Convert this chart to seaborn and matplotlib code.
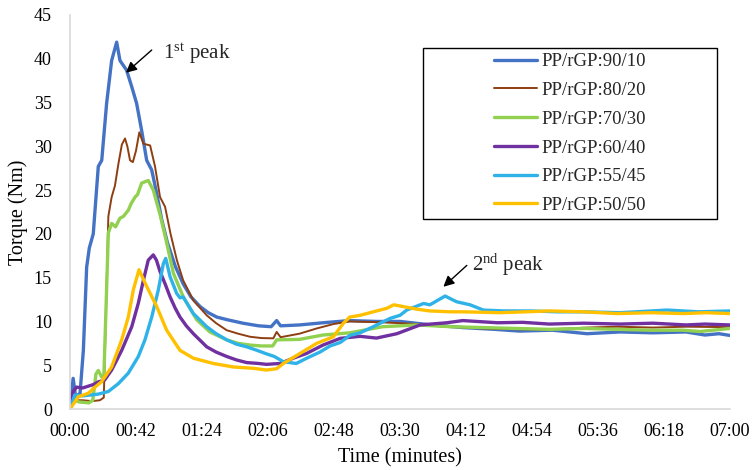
import matplotlib
matplotlib.use("Agg")
import matplotlib.pyplot as plt
from matplotlib.patches import Rectangle
import numpy as np
import pandas as pd
import seaborn as sns

# Torque curves, time in seconds
t_90_10 = [0, 2, 3.6, 6.4, 8.5, 10.6, 12.3, 14.8, 18, 20.2, 23.3, 26.5, 29.7, 31.8, 36, 39.3, 42.4, 45.6,
           48.8, 52, 55.2, 58.4, 62, 67, 72, 77, 82.8, 88, 93.4, 100, 110, 120, 128, 131.5, 134, 146, 161,
           178, 195, 210, 230, 250, 270, 286, 307, 329, 350, 371, 392, 404, 413, 420]
v_90_10 = [0, 3.5, 1.4, 1.8, 6.7, 16.2, 18.4, 20, 27.7, 28.4, 34.9, 39.8, 41.9, 39.8, 38.7, 36.8, 34.9, 31.8,
           28.4, 27.3, 24.6, 21.6, 19.0, 16.3, 14.3, 12.8, 11.7, 11.0, 10.5, 10.2, 9.8, 9.5, 9.4, 10.1, 9.5, 9.6, 9.85,
           10.1, 10.0, 10.0, 9.6, 9.3, 9.1, 8.9, 9.0, 8.6, 8.8, 8.7, 8.8, 8.45, 8.6, 8.4]

t_80_20 = [0, 2.5, 8, 14, 19, 21.5, 23, 24.4, 26.5, 28.6, 30.8, 33, 35, 36.5, 38.2, 40, 42, 44.1, 46.7, 51,
           54.1, 57.3, 60.5, 64, 68, 72, 78.5, 87, 93, 99.7, 107, 114.6, 122, 129.4, 131.5, 134, 146, 157,
           167.6, 178, 199, 220.7, 242, 263, 286, 305.5, 329, 348, 371, 392, 420]
v_80_20 = [0, 1.0, 1.0, 0.9, 1.0, 1.3, 12, 22, 24.2, 25.5, 28, 30.2, 30.9, 30.0, 28.4, 28.2, 29.5, 31.6, 30.3, 30.1,
           27.7, 24.2, 23.1, 20, 17, 14.7, 12.4, 10.7, 9.8, 9.0, 8.6, 8.25, 8.1, 8.07, 8.8, 8.2, 8.6, 9.2,
           9.7, 10.0, 9.9, 9.7, 9.4, 9.2, 9.1, 9.1, 9.3, 9.4, 9.3, 9.4, 9.35]

t_70_30 = [0, 2, 6, 12, 14.5, 16.5, 18, 20, 21.5, 23, 24.4, 26.5, 29, 31.8, 34, 37.1, 39, 41.4, 43, 45.6, 49.8,
           53, 57.3, 60.5, 65.8, 72.1, 80.6, 89, 99.7, 107, 114.6, 122, 129, 131.5, 146, 161, 178, 199, 220.7,
           242, 263, 284, 305, 327, 348, 369, 390, 401, 420]
v_70_30 = [0, 1.0, 0.8, 0.7, 1.0, 4.0, 4.4, 3.7, 3.5, 12, 20.1, 21.2, 20.8, 21.8, 22.0, 22.7, 23.5, 24.2, 24.5, 25.8, 26.1,
           25.0, 22.2, 19.8, 15.5, 12.8, 10.2, 8.8, 7.9, 7.5, 7.3, 7.2, 7.2, 7.9, 7.95, 8.45, 8.7, 9.4, 9.6,
           9.4, 9.3, 9.2, 9.1, 9.2, 9.1, 9.0, 9.0, 8.85, 9.2]

t_60_40 = [0, 2, 4.2, 8, 11.5, 15, 18, 22, 26.5, 29.5, 32.9, 36, 39.3, 43.5, 46.7, 49.8, 53, 55, 57.3, 60.5,
           63.7, 67, 70, 74, 78.5, 87, 93, 99.7, 106, 112.5, 120, 125, 133.7, 142, 150.6, 161, 172, 184.6, 195,
           208, 222.8, 239.8, 250, 272, 288, 305, 327, 350, 371, 392, 404, 420]
v_60_40 = [0, 2.0, 2.5, 2.4, 2.6, 2.8, 3.1, 3.3, 4.45, 5.5, 6.7, 8.0, 9.4, 12.1, 14.7, 17.0, 17.6, 17.0, 15.7, 14.3,
           12.8, 11.5, 10.5, 9.5, 8.6, 7.1, 6.5, 6.0, 5.6, 5.3, 5.2, 5.1, 5.2, 5.8, 6.35, 7.3, 8.07, 8.3, 8.1,
           8.6, 9.6, 9.85, 10.1, 9.85, 9.9, 9.7, 9.8, 9.7, 9.8, 9.6, 9.7, 9.6]

t_55_45 = [0, 3, 8, 13, 18, 24.4, 30.8, 37.1, 43.5, 47.7, 52, 56.2, 59.4, 60.9, 63.7, 67.9, 70, 72, 78.5, 87,
           93, 99.7, 106, 112.5, 119, 125, 130, 135.8, 144, 150.6, 159, 165.5, 172, 178, 184.6, 193, 203.7, 210,
           214.3, 225, 229, 238.7, 246, 254.6, 263, 276, 293, 310, 327, 350, 380, 400, 420]
v_55_45 = [0, 1.6, 1.5, 1.6, 1.7, 2.0, 2.9, 4.1, 6.0, 7.9, 10.5, 13.6, 16.6, 17.2, 15.1, 13.2, 12.7, 12.8, 10.9, 9.4,
           8.6, 7.9, 7.4, 7.1, 6.7, 6.3, 6.0, 5.4, 5.2, 5.8, 6.5, 7.2, 7.6, 8.4, 8.7, 9.4, 10.35, 10.7,
           11.3, 12.05, 11.9, 12.9, 12.25, 11.9, 11.3, 11.2, 11.2, 11.1, 11.1, 11.0, 11.3, 11.1, 11.2]

t_50_50 = [0, 5.3, 11.7, 15.9, 20, 26.5, 32.9, 37.1, 40.3, 43.9, 48.8, 55.2, 61.5, 70, 78.5, 91.2, 104, 116.7,
           125, 131.5, 135.8, 146.4, 157, 167.6, 174, 178, 184.6, 193, 201.6, 206, 212, 220.7, 229, 242, 250,
           273.6, 290, 305, 327, 348, 370, 390, 405, 420]
v_50_50 = [0, 1.4, 1.8, 2.5, 3.1, 4.8, 7.9, 10.5, 13.6, 15.9, 14.0, 11.7, 9.0, 6.7, 5.8, 5.2, 4.8, 4.65,
           4.45, 4.6, 5.2, 6.35, 7.5, 8.25, 9.8, 10.5, 10.7, 11.1, 11.5, 11.9, 11.7, 11.4, 11.2, 11.1, 11.1,
           11.0, 11.1, 11.2, 11.1, 10.9, 11.0, 10.9, 11.0, 10.9]

labels = ["PP/rGP:90/10", "PP/rGP:80/20", "PP/rGP:70/30", "PP/rGP:60/40", "PP/rGP:55/45", "PP/rGP:50/50"]
colors = ["#4472C4", "#8E3F12", "#92D050", "#7030A0", "#2EB2E8", "#FFC000"]
widths = [2.4, 1.4, 2.4, 2.4, 2.4, 2.4]

x_ticks = [0, 42, 84, 126, 168, 210, 252, 294, 336, 378, 420]
x_tick_labels = ["00:00", "00:42", "01:24", "02:06", "02:48", "03:30", "04:12", "04:54", "05:36", "06:18", "07:00"]
y_ticks = [0, 5, 10, 15, 20, 25, 30, 35, 40, 45]

series_t = [t_90_10, t_80_20, t_70_30, t_60_40, t_55_45, t_50_50]
series_v = [v_90_10, v_80_20, v_70_30, v_60_40, v_55_45, v_50_50]
frames = []
for lab, tt, vv in zip(labels, series_t, series_v):
    frames.append(pd.DataFrame({"time": tt, "torque": vv, "blend": lab}))
df = pd.concat(frames, ignore_index=True)

sns.set_theme(style="white")
plt.rcParams["font.family"] = ["Liberation Serif", "DejaVu Serif"]
plt.rcParams["mathtext.fontset"] = "custom"
plt.rcParams["mathtext.rm"] = "Liberation Serif"
plt.rcParams["mathtext.it"] = "Liberation Serif:italic"

fig = plt.figure(figsize=(7.54, 4.70), dpi=100)
ax = fig.add_axes([70 / 754, 1 - 409 / 470, 660 / 754, 394 / 470])

sns.lineplot(data=df, x="time", y="torque", hue="blend", hue_order=labels,
             palette=dict(zip(labels, colors)), estimator=None, sort=False,
             legend=False, ax=ax)
for line, lw in zip(ax.get_lines(), widths):
    line.set_linewidth(lw)
    line.set_solid_joinstyle("round")

ax.set_xlim(0, 420)
ax.set_ylim(0, 45)
ax.set_xticks(x_ticks)
ax.set_xticklabels(x_tick_labels)
ax.set_yticks(y_ticks)
ax.tick_params(axis="both", length=0, labelsize=13, colors="#000000")
ax.tick_params(axis="x", pad=10)
ax.tick_params(axis="y", pad=13)
for side in ["top", "right"]:
    ax.spines[side].set_visible(False)
for side in ["left", "bottom"]:
    ax.spines[side].set_color("#D9D9D9")
    ax.spines[side].set_linewidth(1.2)
ax.set_xlabel("Time (minutes)", fontsize=14.5, labelpad=6, color="black")
ax.set_ylabel("Torque (Nm)", fontsize=14.5, labelpad=4, color="black")

# Legend inside a framed box
box = Rectangle((0.535, 0.482), 0.445, 0.434, transform=ax.transAxes,
                facecolor="white", edgecolor="black", linewidth=1.0, zorder=5)
ax.add_patch(box)
leg = ax.legend(ax.get_lines(), labels, loc="center", bbox_to_anchor=(0.7575, 0.699),
                frameon=False, fontsize=13.5, handlelength=2.3, handletextpad=0.2,
                labelspacing=0.62)
leg.set_zorder(6)

arrow = dict(arrowstyle="-|>", color="black", lw=1.0, mutation_scale=16, shrinkA=0, shrinkB=0)
ax.annotate("", xy=(35.6, 38.4), xytext=(52, 41), arrowprops=arrow)
ax.text(59.4, 40.0, r"1$^{\mathrm{st}}$ peak", fontsize=15, va="baseline", ha="left")
ax.annotate("", xy=(237.6, 13.96), xytext=(252.5, 16.4), arrowprops=arrow)
ax.text(255.7, 15.8, r"2$^{\mathrm{nd}}$ peak", fontsize=15, va="baseline", ha="left")

fig.savefig("out.png", dpi=100, facecolor="white")
